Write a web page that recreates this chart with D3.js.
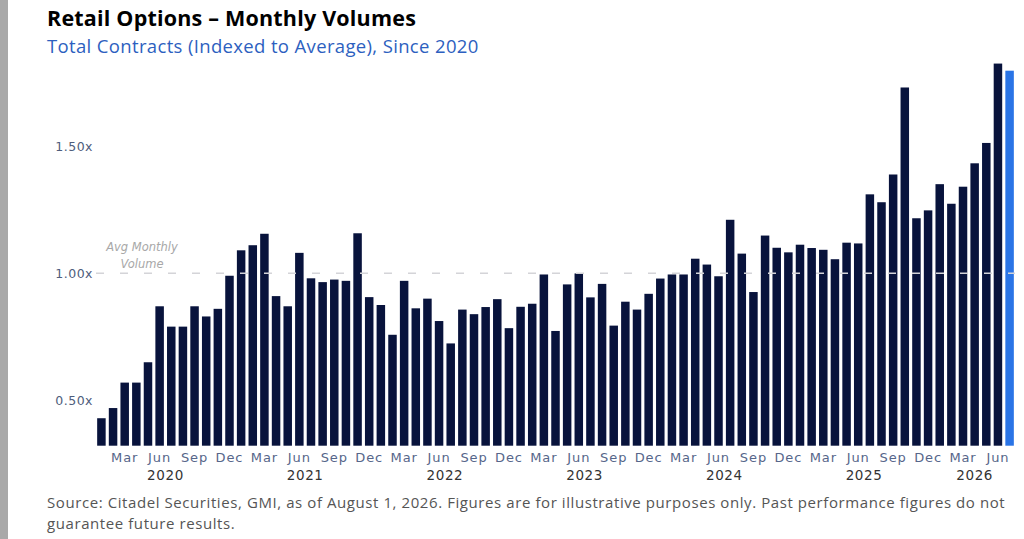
<!DOCTYPE html>
<html>
<head>
<meta charset="utf-8">
<script src="https://cdn.jsdelivr.net/npm/d3@7"></script>
<style>
  body { margin: 0; background: #fff; }
  svg { display: block; font-family: "Open Sans", "DejaVu Sans", sans-serif; }
</style>
</head>
<body>
<svg id="chart" width="1024" height="539"></svg>
<script>
// monthly volumes, indexed to average (1.00x), Jan 2020 .. Jul 2026
const years = [2020, 2021, 2022, 2023, 2024, 2025, 2026];
const monthNames = ["Jan","Feb","Mar","Apr","May","Jun","Jul","Aug","Sep","Oct","Nov","Dec"];
const tickMonths = ["Mar","Jun","Sep","Dec"];
const yTicks = [0.5, 1.0, 1.5];
const volumes = [
  0.43, 0.47, 0.57, 0.57, 0.65, 0.87, 0.79, 0.79, 0.87, 0.83, 0.86, 0.99,   // 2020
  1.09, 1.11, 1.155, 0.91, 0.87, 1.08, 0.98, 0.965, 0.975, 0.97, 1.157, 0.906, // 2021
  0.875, 0.758, 0.97, 0.862, 0.90, 0.812, 0.724, 0.857, 0.839, 0.867, 0.898, 0.784, // 2022
  0.868, 0.88, 0.995, 0.773, 0.956, 0.999, 0.905, 0.958, 0.794, 0.888, 0.857, 0.919, // 2023
  0.979, 0.995, 0.995, 1.057, 1.034, 0.988, 1.21, 1.077, 0.926, 1.148, 1.10, 1.082, // 2024
  1.112, 1.099, 1.092, 1.055, 1.12, 1.117, 1.31, 1.279, 1.388, 1.73, 1.216, 1.247, // 2025
  1.35, 1.273, 1.34, 1.432, 1.512, 1.824, 1.796 // 2026 (Jul partial)
];
const avgLabel = ["Avg Monthly", "Volume"];

const data = volumes.map((v, i) => ({
  key: i,
  year: years[Math.floor(i / 12)],
  month: monthNames[i % 12],
  value: v
}));

const svg = d3.select("#chart");
const width = 1024, height = 539;

const x = d3.scaleBand()
  .domain(data.map(d => d.key))
  .range([96, 1015])
  .paddingInner(0.27)
  .paddingOuter(0.1);

const y = d3.scaleLinear()
  .domain([0.322, 1.5])
  .range([445.7, 146]);

// left grey rule
svg.append("rect").attr("x", 0).attr("y", 0).attr("width", 8).attr("height", height).attr("fill", "#a9a9a9");

// titles
svg.append("text").attr("x", 47).attr("y", 26)
  .attr("font-size", 21.5).attr("font-weight", 700).attr("fill", "#000")
  .attr("letter-spacing", 0.2)
  .text("Retail Options \u2013 Monthly Volumes");
svg.append("text").attr("x", 47).attr("y", 53)
  .attr("font-size", 18.5).attr("fill", "#2d5fc0")
  .attr("letter-spacing", 0.35)
  .text("Total Contracts (Indexed to Average), Since 2020");

// y axis labels (no line)
svg.append("g").selectAll(".ylab")
  .data(yTicks)
  .enter()
  .append("text")
  .attr("class", "ylab")
  .attr("x", 93)
  .attr("y", d => y(d) + 5)
  .attr("text-anchor", "end")
  .attr("font-family", "'DejaVu Sans', Verdana, sans-serif")
  .attr("font-size", 12.5)
  .attr("letter-spacing", 0.5)
  .attr("fill", "#4e5d7c")
  .text(d => d3.format(".2f")(d) + "x");

// bars
svg.append("g").selectAll(".bar")
  .data(data)
  .enter()
  .append("rect")
  .attr("class", "bar")
  .attr("x", d => x(d.key))
  .attr("width", x.bandwidth())
  .attr("y", d => y(d.value))
  .attr("height", d => y.range()[0] - y(d.value))
  .attr("fill", (d, i) => i === data.length - 1 ? "#2a74e6" : "#08133c");

// average line, drawn over bars
svg.append("line")
  .attr("x1", 96).attr("x2", 1015)
  .attr("y1", y(1)).attr("y2", y(1))
  .attr("stroke", "#d4d4d8").attr("stroke-width", 1.5)
  .attr("stroke-dasharray", "8,16");

svg.append("g").selectAll(".avg")
  .data(avgLabel)
  .enter()
  .append("text")
  .attr("x", 142)
  .attr("y", (d, i) => 251 + i * 17)
  .attr("text-anchor", "middle")
  .attr("font-family", "'DejaVu Sans', Verdana, sans-serif")
  .attr("font-size", 11.5)
  .attr("font-style", "italic")
  .attr("fill", "#a8a8a8")
  .text(d => d);

// month ticks
svg.append("g").selectAll(".mlab")
  .data(data.filter(d => tickMonths.includes(d.month)))
  .enter()
  .append("text")
  .attr("class", "mlab")
  .attr("x", d => x(d.key) + x.bandwidth() / 2)
  .attr("y", 462)
  .attr("text-anchor", "middle")
  .attr("font-family", "'DejaVu Sans', Verdana, sans-serif")
  .attr("font-size", 13)
  .attr("letter-spacing", 0.9)
  .attr("fill", "#56668a")
  .text(d => d.month);

// year labels centered on the months available
svg.append("g").selectAll(".ylab2")
  .data(years)
  .enter()
  .append("text")
  .attr("x", yr => {
    const ms = data.filter(d => d.year === yr);
    const x0 = x(ms[0].key), x1 = x(ms[ms.length - 1].key) + x.bandwidth();
    return (x0 + x1) / 2;
  })
  .attr("y", 480)
  .attr("text-anchor", "middle")
  .attr("font-family", "'DejaVu Sans', Verdana, sans-serif")
  .attr("font-size", 13.5)
  .attr("letter-spacing", 0.6)
  .attr("fill", "#333")
  .text(yr => yr);

// source
const source = [
  "Source: Citadel Securities, GMI, as of August 1, 2026. Figures are for illustrative purposes only. Past performance figures do not",
  "guarantee future results."
];
svg.append("g").selectAll(".src")
  .data(source)
  .enter()
  .append("text")
  .attr("x", 47)
  .attr("y", (d, i) => 508 + i * 21)
  .attr("font-size", 15)
  .attr("letter-spacing", 0.58)
  .attr("fill", "#555")
  .text(d => d);
</script>
</body>
</html>
